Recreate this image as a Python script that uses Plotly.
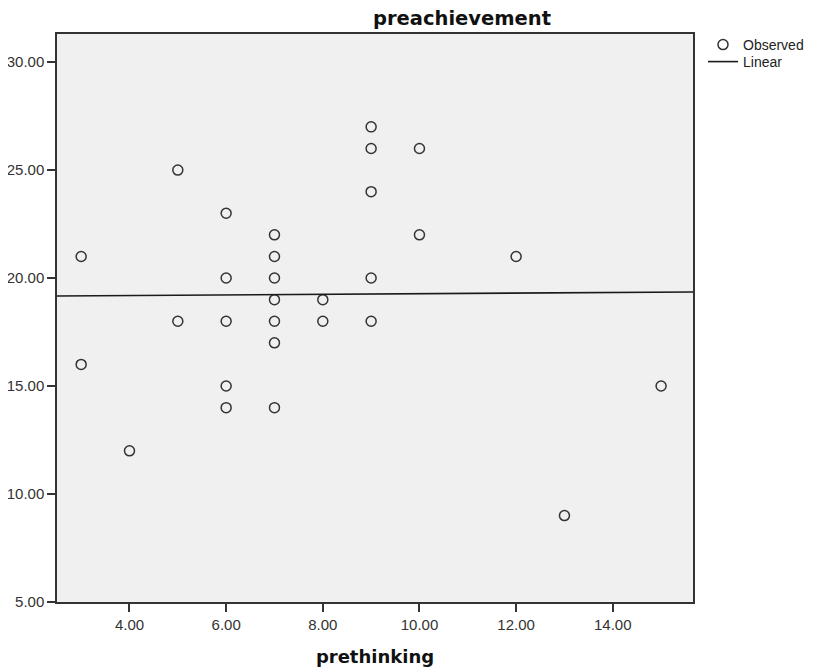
import numpy as np
import plotly.graph_objects as go

# Data
prethinking = [3, 3, 4, 5, 5, 6, 6, 6, 6, 6, 7, 7, 7, 7, 7, 7, 7, 8, 8,
               9, 9, 9, 9, 9, 10, 10, 12, 13, 15]
preachievement = [21, 16, 12, 25, 18, 23, 20, 18, 15, 14, 22, 21, 20, 19, 18, 17, 14, 19, 18,
                  27, 26, 24, 20, 18, 26, 22, 21, 9, 15]

x_range = [2.5, 15.66]
y_range = [5.0, 31.3]
x_ticks = [4, 6, 8, 10, 12, 14]
y_ticks = [5, 10, 15, 20, 25, 30]

# Linear fit (OLS) from the observed data
slope, intercept = np.polyfit(prethinking, preachievement, 1)
fit_x = np.array(x_range)
fit_y = intercept + slope * fit_x

ink = "#333333"
tick_font = dict(family="Liberation Sans, Arial, sans-serif", size=15, color="#333333")
legend_font = dict(family="Liberation Sans, Arial, sans-serif", size=14, color="#222222")

# page body has an 8px margin -> figure is 8px smaller and offset
W, H = 807, 659
OFF = 8
plot_l, plot_r, plot_t, plot_b = 57 - OFF, 693 - OFF, 34 - OFF, 602 - OFF
plot_h = plot_b - plot_t
plot_w = plot_r - plot_l

fig = go.Figure()
fig.add_trace(go.Scatter(
    x=prethinking, y=preachievement, mode="markers", name="Observed", legend="legend",
    marker=dict(symbol="circle-open", size=10, color=ink, line=dict(width=1.5, color=ink)),
))
fig.add_trace(go.Scatter(
    x=fit_x, y=fit_y, mode="lines", name="Linear", legend="legend2",
    line=dict(color="#1a1a1a", width=1.6),
))

axis_common = dict(
    showgrid=False, zeroline=False, showline=True, mirror=True,
    linecolor=ink, linewidth=1.5,
    ticks="outside", ticklen=8, tickwidth=1.5, tickcolor=ink,
    tickformat=".2f", tickfont=tick_font,
)

legend_x = (703 - OFF - plot_l) / plot_w
leg_common = dict(x=legend_x, xref="paper", xanchor="left", yanchor="middle",
                  bgcolor="rgba(0,0,0,0)", borderwidth=0, font=legend_font, itemwidth=30)

fig.update_layout(
    width=W, height=H,
    margin=dict(l=plot_l, r=W - plot_r, t=plot_t, b=H - plot_b, autoexpand=False),
    paper_bgcolor="white", plot_bgcolor="#f0f0f0",
    title=dict(text="<b>preachievement</b>", xref="container", yref="container",
               x=(462 - OFF) / W, xanchor="center", y=1 - (18 - OFF) / H, yanchor="middle",
               font=dict(family="DejaVu Sans, sans-serif", size=19.5, color="#111111")),
    xaxis=dict(range=x_range, tickvals=x_ticks,
               title=dict(text="<b>prethinking</b>", standoff=22,
                          font=dict(family="DejaVu Sans, sans-serif", size=18, color="#111111")),
               **axis_common),
    yaxis=dict(range=y_range, tickvals=y_ticks, **axis_common),
    legend=dict(y=(602 - 45) / 568, **leg_common),
    legend2=dict(y=(602 - 62) / 568, **leg_common),
    showlegend=True,
)

fig.write_html("out.html")
